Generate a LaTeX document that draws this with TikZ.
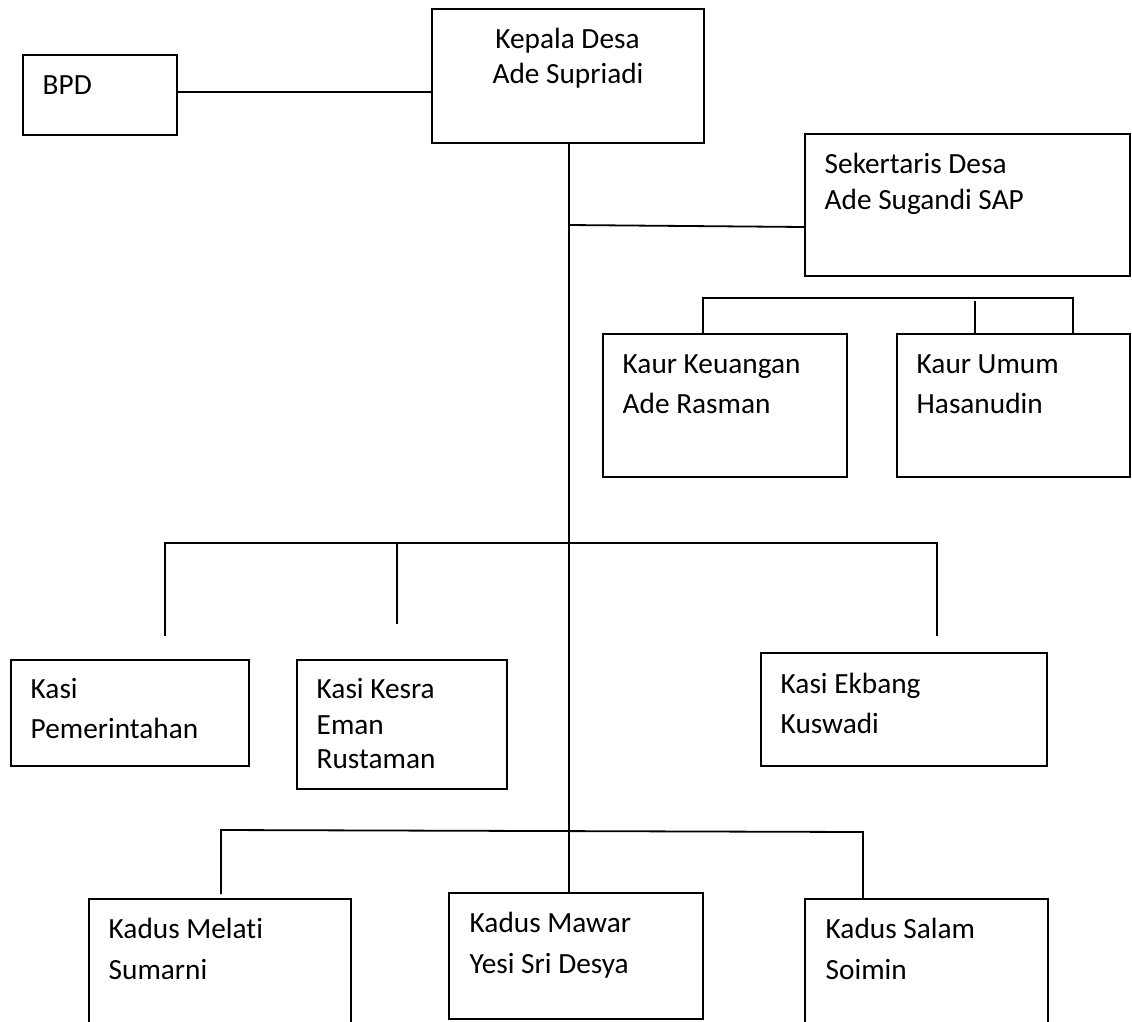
\documentclass[tikz,border=0pt]{standalone}
\usepackage{fontspec}
\setmainfont{Carlito}[Ligatures={NoCommon,NoRare,NoDiscretionary}]
\usetikzlibrary{calc}
\begin{document}
\begin{tikzpicture}[x=1pt,y=-1pt,
  box/.style={draw,line width=1.8pt,inner sep=0pt,outer sep=0pt,rectangle},
  txt/.style={anchor=base west,inner sep=0pt,font=\fontsize{29.3}{35}\selectfont},
  ctxt/.style={anchor=base,inner sep=0pt,font=\fontsize{29.3}{35}\selectfont},
  conn/.style={line width=1.8pt}]
\useasboundingbox (0,0) rectangle (1132,1021);
\clip (0,0) rectangle (1132,1021);
% boxes
\node[box,minimum width=272pt,minimum height=134pt] (kepala) at (568,76) {};
\node[box,minimum width=154pt,minimum height=80pt] (bpd) at (100,95) {};
\node[box,minimum width=325pt,minimum height=142pt] (sek) at (967.5,205) {};
\node[box,minimum width=244pt,minimum height=143pt] (kkeu) at (725,405.5) {};
\node[box,minimum width=233pt,minimum height=143pt] (kumum) at (1013.5,405.5) {};
\node[box,minimum width=238pt,minimum height=106pt] (kpem) at (130,713) {};
\node[box,minimum width=210pt,minimum height=129pt] (kkesra) at (402,724.5) {};
\node[box,minimum width=286pt,minimum height=113pt] (kekbang) at (904,709.5) {};
\node[box,minimum width=262pt,minimum height=141pt] (melati) at (220,969.5) {};
\node[box,minimum width=254pt,minimum height=126pt] (mawar) at (576,956) {};
\node[box,minimum width=243pt,minimum height=141pt] (salam) at (926.5,969.5) {};
% texts
\node[ctxt] (t1a) at (567.5,48) {Kepala Desa};
\node[ctxt] (t1b) at (568,83) {Ade Supriadi};
\node[txt] (t2) at (42.5,94) {BPD};
\node[txt] (t3a) at (824.5,173) {Sekertaris Desa};
\node[txt] (t3b) at (824.5,209) {Ade Sugandi SAP};
\node[txt] (t4a) at (622.5,373) {Kaur Keuangan};
\node[txt] (t4b) at (622.5,413) {Ade Rasman};
\node[txt] (t5a) at (916.5,373) {Kaur Umum};
\node[txt] (t5b) at (916.5,413) {Hasanudin};
\node[txt] (t6a) at (30.5,698) {Kasi};
\node[txt] (t6b) at (30.5,738) {Pemerintahan};
\node[txt] (t7a) at (316.5,698) {Kasi Kesra};
\node[txt] (t7b) at (316.5,734) {Eman};
\node[txt] (t7c) at (316.5,768) {Rustaman};
\node[txt] (t8a) at (780.5,693) {Kasi Ekbang};
\node[txt] (t8b) at (780.5,733) {Kuswadi};
\node[txt] (t9a) at (108.5,938) {Kadus Melati};
\node[txt] (t9b) at (108.5,979) {Sumarni};
\node[txt] (t10a) at (469.5,932) {Kadus Mawar};
\node[txt] (t10b) at (469.5,973) {Yesi Sri Desya};
\node[txt] (t11a) at (825.5,938) {Kadus Salam};
\node[txt] (t11b) at (825.5,979) {Soimin};
% connectors
\coordinate (b1) at ($(bpd.east)+(0,-3)$);
\draw[conn] (b1) -- (kepala.west |- b1);
\coordinate (tr) at (569,143);
\draw[conn] (tr) -- (mawar.north -| tr);
\coordinate (tk) at (569,225);
\coordinate (tk2) at (805,227);
\draw[conn] (tk) -- (sek.west |- tk2);
% sekretaris subtree
\coordinate (sL) at (703,298);
\coordinate (sR) at (1073,298);
\coordinate (sM) at (975,301);
\draw[conn] (kkeu.north -| sL) -- (sL) -- (sR) -- (kumum.north -| sR);
\draw[conn] (sM) -- (kumum.north -| sM);
% kasi bus
\coordinate (kL) at (165,543);
\coordinate (kR) at (937,543);
\coordinate (kM) at (397,543);
\coordinate (kLe) at (165,636);
\coordinate (kMe) at (397,624);
\coordinate (kRe) at (937,636);
\draw[conn] (kLe) -- (kL) -- (kR) -- (kRe);
\draw[conn] (kM) -- (kMe);
% kadus bus
\coordinate (dL) at (221,830);
\coordinate (dR) at (863,832);
\coordinate (dLe) at (221,894);
\draw[conn] (dLe) -- (dL) -- (dR) -- (salam.north -| dR);
\end{tikzpicture}
\end{document}
